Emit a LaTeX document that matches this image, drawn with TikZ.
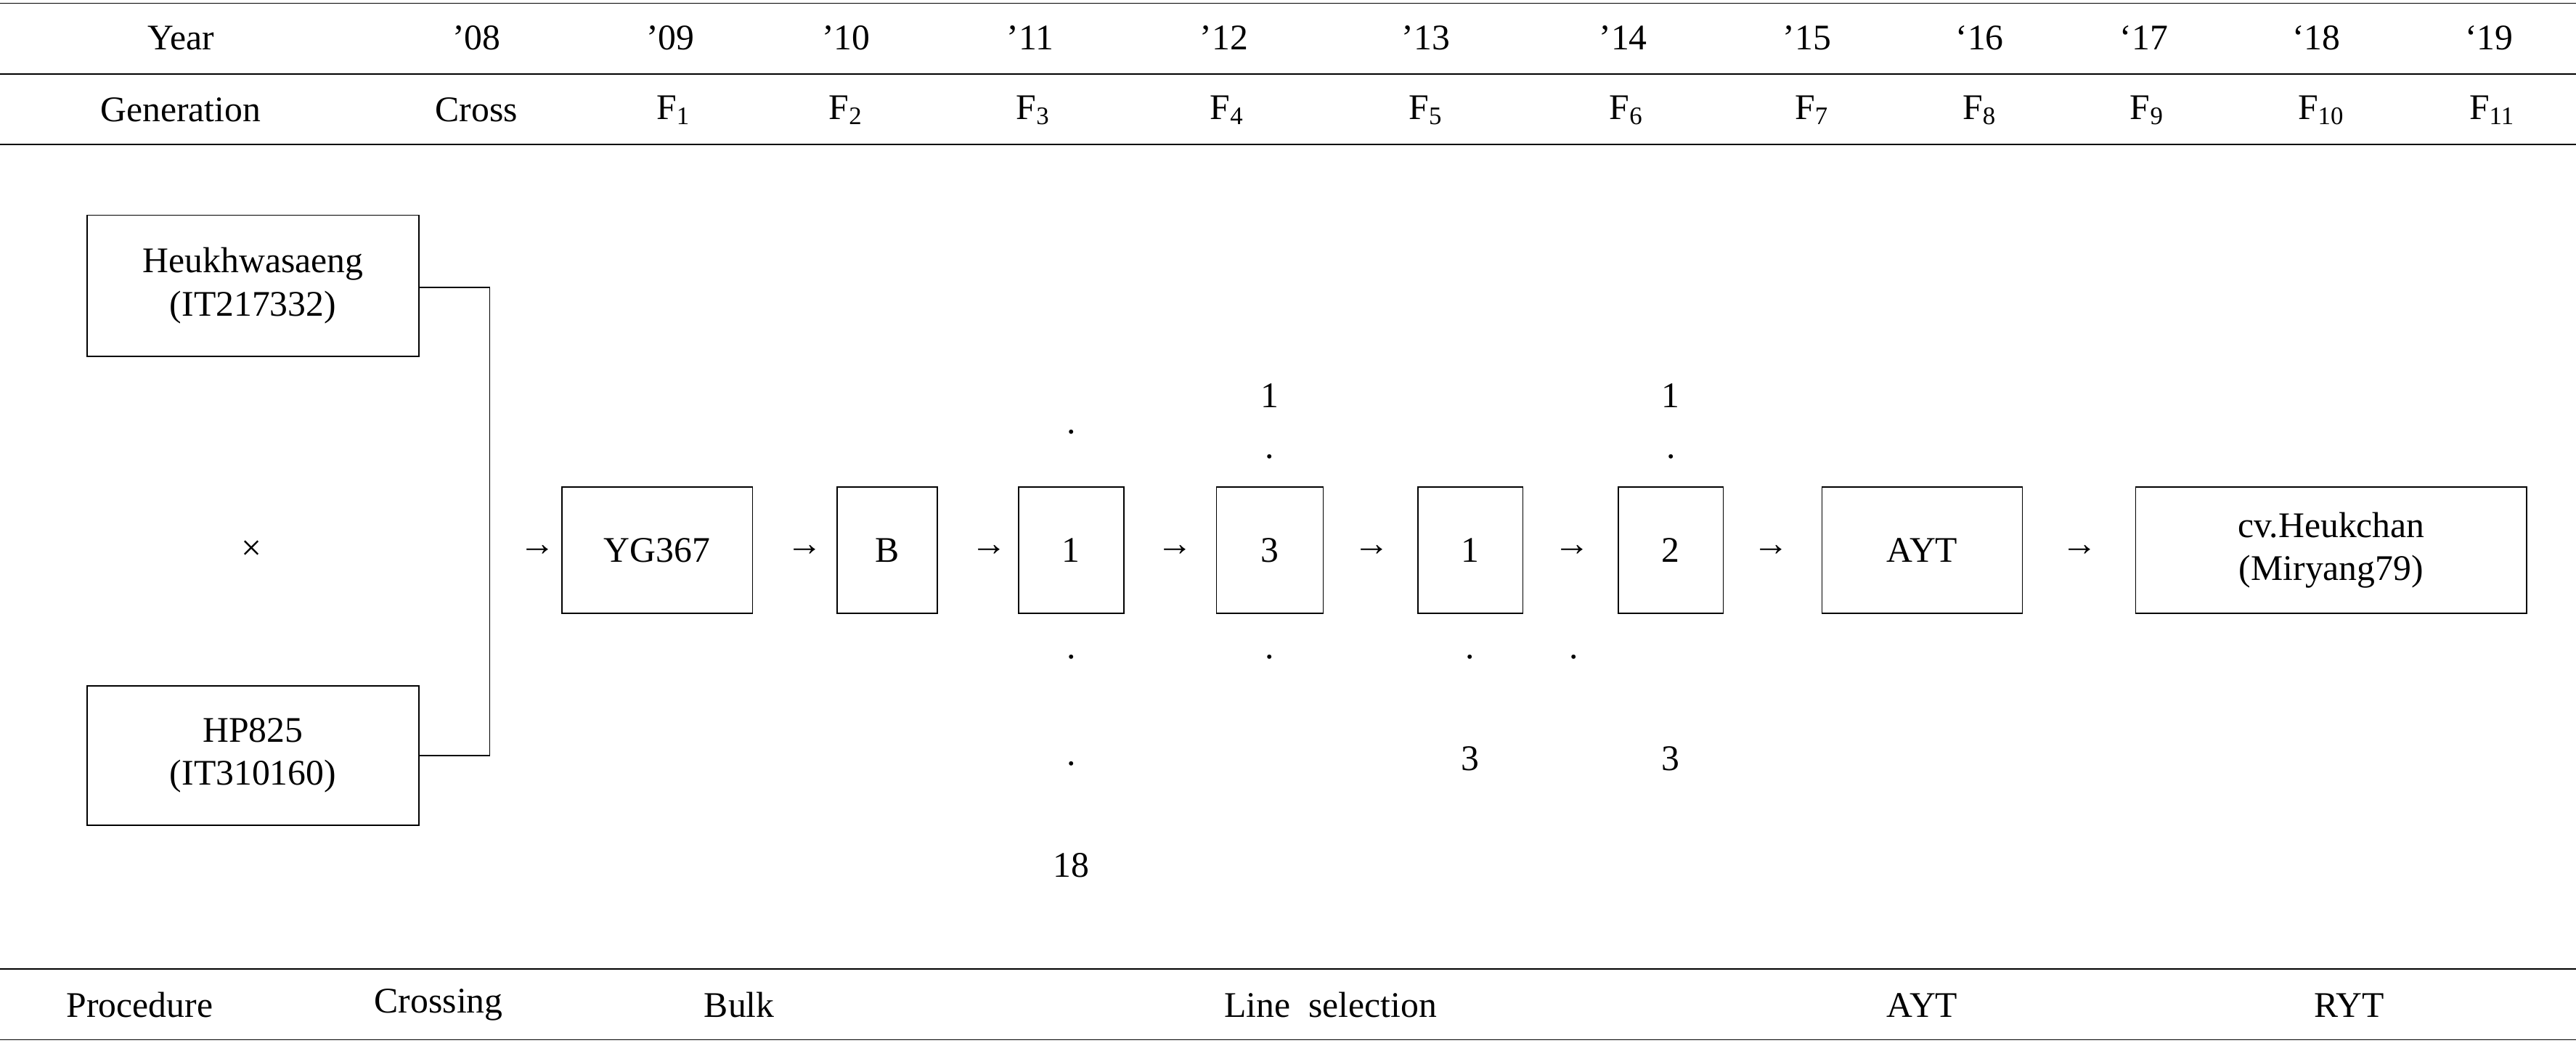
\documentclass[tikz,border=0pt]{standalone}
\usepackage{fontspec}
\setmainfont{Liberation Serif}
\begin{document}
\begin{tikzpicture}[x=0.02cm, y=-0.02cm, every node/.style={font=\fontsize{12.5}{15}\selectfont, inner sep=1pt}, thin]
\tikzstyle{stagebox}=[draw, minimum height=1.54cm, align=center]
\useasboundingbox (0,0) rectangle (1568,635);

% table rules
\foreach \y in {2,45,88,590,633} \draw (0,\y) -- (1568,\y);

% header rows
\foreach \x/\t in {110/Year,290/'08,408/'09,515/'10,627/'11,745/'12,868/'13,988/'14,1100/'15,1205/‘16,1305/‘17,1410/‘18,1515/‘19}
   \node at (\x,23) {\t};
\node at (110,67) {Generation};
\node at (290,67) {Cross};
\foreach \x/\n in {410/1,515/2,629/3,747/4,868/5,990/6,1103/7,1205/8,1307/9,1413/10,1517/11}
   \node at (\x,67) {F\textsubscript{\n}};

% parents
\node[draw, minimum width=4.04cm, minimum height=1.72cm, align=center] (heuk) at (154,174) {Heukhwasaeng\\(IT217332)};
\node[draw, minimum width=4.04cm, minimum height=1.70cm, align=center] (hp) at (154,460) {HP825\\(IT310160)};
\node (cross) at (153,335) {×};
\coordinate (jn) at (298,335);
\draw (heuk.east |- 0,175) -| (jn) |- (hp.east |- 0,460);

% selection chain
\node at (327,335) {→};
\node[stagebox, minimum width=2.32cm] (yg) at (400,335) {YG367};
\node at (490,335) {→};
\node[stagebox, minimum width=1.22cm] (bulk) at (540,335) {B};
\node at (602,335) {→};
\node[stagebox, minimum width=1.28cm] (fa) at (652,335) {1};
\node at (715,335) {→};
\node[stagebox, minimum width=1.30cm] (fb) at (773,335) {3};
\node at (835,335) {→};
\node[stagebox, minimum width=1.28cm] (fc) at (895,335) {1};
\node at (957,335) {→};
\node[stagebox, minimum width=1.28cm] (fd) at (1017,335) {2};
\node at (1078,335) {→};
\node[stagebox, minimum width=2.44cm] (ayt) at (1170,335) {AYT};
\node at (1266,335) {→};
\node[stagebox, minimum width=4.76cm, align=center] (cv) at (1419,335) {cv.Heukchan\\(Miryang79)};

% line numbers
\node at (652,263) {.};
\node at (652,400) {.};
\node at (652,465) {.};
\node at (652,527) {18};
\node at (773,241) {1};
\node at (773,278) {.};
\node at (773,400) {.};
\node at (895,400) {.};
\node at (895,462) {3};
\node at (958,400) {.};
\node at (1017,241) {1};
\node at (1017,278) {.};
\node at (1017,462) {3};

% procedure row
\node at (85,612) {Procedure};
\node at (267,612) {Crossing};
\node at (450,612) {Bulk};
\node at (810,612) {Line\ \ selection};
\node at (1170,612) {AYT};
\node at (1430,612) {RYT};
\end{tikzpicture}
\end{document}
